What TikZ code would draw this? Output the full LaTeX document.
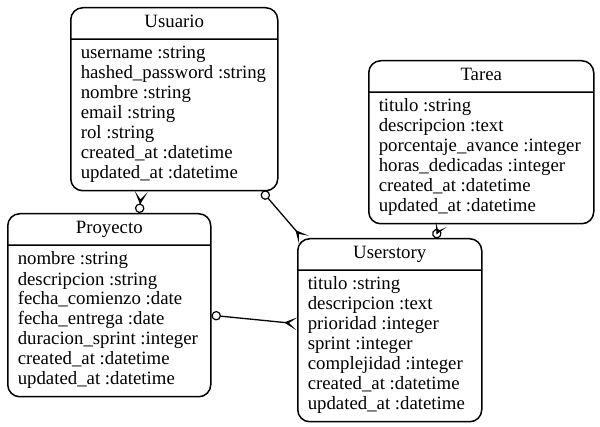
\documentclass[tikz,border=0pt]{standalone}
\usepackage{fontspec}
\setmainfont{Liberation Serif}
\usetikzlibrary{shapes.multipart,arrows.meta,positioning}

\tikzset{
  crow/.tip={Stealth[reversed, length=13pt, width=13pt, inset=8pt]},
  ring/.tip={Circle[open, length=9.5pt, line width=1.2pt]}
}

\begin{document}
\begin{tikzpicture}[
		x=1pt, y=-1pt,
		entity/.style={rectangle split, rectangle split parts=2, rectangle split part align={center,left}, draw, line width=1.5pt, rounded corners=12pt, anchor=north west, inner xsep=10pt, inner ysep=5pt, align=left, font=\fontsize{18.8pt}{20pt}\selectfont},
		rel/.style={line width=1.3pt}
		]
		\useasboundingbox (0,0) rectangle (600,427);
		
		% Entities
		\node[entity, minimum width=207pt] (usuario) at (70,7) {\strut Usuario\nodepart{two}\strut username :string\\hashed\_password :string\\nombre :string\\email :string\\rol :string\\created\_at :datetime\\updated\_at :datetime\strut};
		\node[entity, minimum width=203pt] (proyecto) at (7,213) {\strut Proyecto\nodepart{two}\strut nombre :string\\descripcion :string\\fecha\_comienzo :date\\fecha\_entrega :date\\duracion\_sprint :integer\\created\_at :datetime\\updated\_at :datetime\strut};
		\node[entity, minimum width=225pt] (tarea) at (368,60) {\strut Tarea\nodepart{two}\strut titulo :string\\descripcion :text\\porcentaje\_avance :integer\\horas\_dedicadas :integer\\created\_at :datetime\\updated\_at :datetime\strut};
		\node[entity, minimum width=184pt] (userstory) at (297,238) {\strut Userstory\nodepart{two}\strut titulo :string\\descripcion :text\\prioridad :integer\\sprint :integer\\complejidad :integer\\created\_at :datetime\\updated\_at :datetime\strut};
		
		% Relations
		\draw[rel, {crow}-{ring}] ([xshift=-33pt]usuario.south) -- ([xshift=30pt]proyecto.north);
		\draw[rel, {ring}-{crow}] ([xshift=88pt]usuario.south) -- ([xshift=7pt,yshift=-2pt]userstory.north west);
		\draw[rel, {ring}-{crow}] ([yshift=-10pt]proyecto.east) -- ([yshift=6.5pt]userstory.west);
		\draw[rel, {Stealth[reversed, length=11pt, width=12pt, inset=7pt]}-{ring}] ([xshift=-40pt]tarea.south) -- ([xshift=45pt]userstory.north);
		
	\end{tikzpicture}
\end{document}
